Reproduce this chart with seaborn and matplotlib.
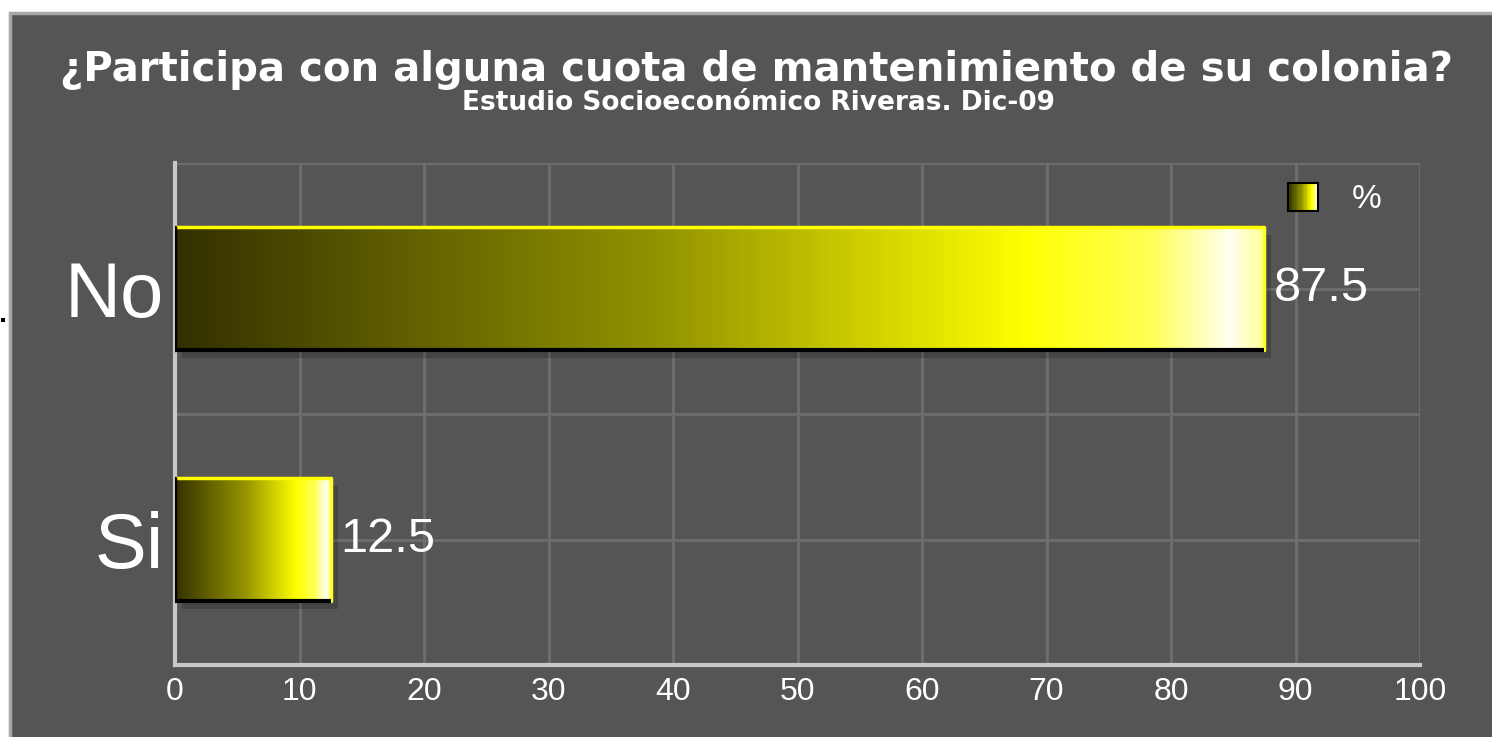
import numpy as np
import pandas as pd
import seaborn as sns
import matplotlib.pyplot as plt
from matplotlib.colors import LinearSegmentedColormap
from matplotlib.patches import Rectangle, Patch
from matplotlib.legend_handler import HandlerBase
from matplotlib.transforms import ScaledTranslation
import matplotlib.patheffects as pe

# Data
categories = ['No', 'Si']
values = [87.5, 12.5]
series_name = '%'
x_ticks = [0, 10, 20, 30, 40, 50, 60, 70, 80, 90, 100]

title = '¿Participa con alguna cuota de mantenimiento de su colonia?'
subtitle = 'Estudio Socioeconómico Riveras. Dic-09'

bg = '#555555'
grid_col = '#6e6e6e'
spine_col = '#c8c8c8'

# gradient used for the bars: dark olive -> yellow -> white
bar_cmap = LinearSegmentedColormap.from_list('bar', [
    (0.00, (0.20, 0.19, 0.00)),
    (0.45, (0.58, 0.58, 0.00)),
    (0.78, (1.00, 1.00, 0.00)),
    (0.90, (1.00, 1.00, 0.35)),
    (0.97, (1.00, 1.00, 0.95)),
    (1.00, (1.00, 1.00, 0.60)),
])


class GradientHandler(HandlerBase):
    def create_artists(self, legend, orig_handle, xdescent, ydescent,
                       width, height, fontsize, trans):
        n = 24
        arts = []
        for i in range(n):
            r = Rectangle((-xdescent + width * i / n, -ydescent), width / n + 0.3, height,
                          facecolor=bar_cmap(i / (n - 1)), edgecolor='none', transform=trans)
            arts.append(r)
        arts.append(Rectangle((-xdescent, -ydescent), width, height, facecolor='none',
                              edgecolor='black', lw=1.5, transform=trans))
        return arts


sns.set_theme(style='darkgrid', rc={
    'axes.facecolor': bg,
    'figure.facecolor': 'white',
    'grid.color': grid_col,
    'grid.linewidth': 2,
})
plt.rcParams['font.family'] = ['Liberation Sans', 'DejaVu Sans']

df = pd.DataFrame({'cat': categories, 'val': values})

fig = plt.figure(figsize=(14.92, 7.37), dpi=100)
# gray panel with thin light border, white strip top/left
fig.patches.append(Rectangle((10 / 1492, -0.01), 1 - 10 / 1492 + 0.01, 1 - 13 / 737 + 0.01,
                             transform=fig.transFigure, facecolor=bg,
                             edgecolor='#a8a8a8', lw=2.5, zorder=-5))
fig.patches.append(Rectangle((1 / 1492, 1 - 322 / 737), 4 / 1492, 4 / 737,
                             transform=fig.transFigure, facecolor='black',
                             edgecolor='none', zorder=-5))

ax = fig.add_axes([175 / 1492, 1 - 665 / 737, 1245 / 1492, 502 / 737])
ax.set_facecolor(bg)

sns.barplot(data=df, x='val', y='cat', orient='h', width=0.49, ax=ax,
            color='yellow', edgecolor='none', linewidth=0)

ax.set_xticks(x_ticks)
ax.set_yticks([0, 1], minor=False)
ax.set_yticks([-0.5, 0.5, 1.5], minor=True)
ax.grid(True, which='both', color=grid_col, lw=2)
ax.set_axisbelow(True)

grad = np.linspace(0, 1, 512).reshape(1, -1)
for p in ax.patches:
    x0, y0 = p.get_x(), p.get_y()
    w, h = p.get_width(), p.get_height()
    p.set_path_effects([pe.SimplePatchShadow(offset=(5, -6), shadow_rgbFace='black', alpha=0.18),
                        pe.Normal()])
    ax.imshow(grad, cmap=bar_cmap, aspect='auto', extent=(x0, x0 + w, y0 + h, y0),
              zorder=3, interpolation='bilinear')
    # bevel edges
    ax.plot([x0, x0 + w], [y0, y0], color='#ffff00', lw=2.5, zorder=4, solid_capstyle='butt')
    ax.plot([x0 + w, x0 + w], [y0, y0 + h], color='#ffff20', lw=2.5, zorder=4)
    ax.plot([x0, x0 + w], [y0 + h, y0 + h], color='black', lw=3, zorder=4, solid_capstyle='butt')
    ax.plot([x0, x0], [y0, y0 + h], color='black', lw=2.5, zorder=4)
    ax.text(x0 + w, y0 + h / 2, f'{w:.1f}', color='white', fontsize=35,
            ha='left', va='center', zorder=5,
            transform=ax.transData + ScaledTranslation(10 / 100, 0, fig.dpi_scale_trans))

ax.set_xlim(0, 100)
ax.set_ylim(1.5, -0.5)
ax.set_xlabel('')
ax.set_ylabel('')
ax.tick_params(axis='x', labelsize=23, colors='white', length=0, pad=9)
ax.tick_params(axis='y', labelsize=56, colors='white', length=0, pad=8)
ax.tick_params(which='minor', length=0)

for s in ['top', 'right']:
    ax.spines[s].set_visible(False)
for s in ['left', 'bottom']:
    ax.spines[s].set_visible(True)
    ax.spines[s].set_color(spine_col)
    ax.spines[s].set_linewidth(3)

leg = ax.legend([Patch()], [series_name], handler_map={Patch: GradientHandler()},
                loc='center left', bbox_to_anchor=(1288 / 1492, 1 - 199 / 737),
                bbox_transform=fig.transFigure, frameon=False, fontsize=24,
                handlelength=0.9, handleheight=0.9, handletextpad=1.0,
                borderpad=0, borderaxespad=0)
for t in leg.get_texts():
    t.set_color('white')

fig.text(757 / 1492, 1 - 70 / 737, title, ha='center', va='center', color='white',
         fontsize=29, fontweight='bold', family='DejaVu Sans')
fig.text(758 / 1492, 1 - 103 / 737, subtitle, ha='center', va='center', color='white',
         fontsize=19, fontweight='bold', family='DejaVu Sans')

fig.savefig('out.png', dpi=100)
